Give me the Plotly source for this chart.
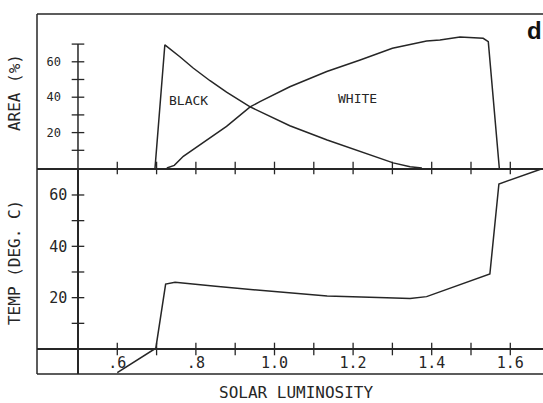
import plotly.graph_objects as go

# ---------------- data ----------------
lum_black = [0.696, 0.721, 0.760, 0.793, 0.836, 0.878, 0.938, 0.963, 1.039, 1.134, 1.218, 1.302, 1.345, 1.375]
area_black = [0.0, 69.6, 62.7, 56.5, 49.3, 42.8, 34.5, 31.8, 23.9, 15.8, 9.2, 2.9, 0.7, 0.0]

lum_white = [0.726, 0.745, 0.768, 0.810, 0.878, 0.938, 0.963, 1.039, 1.133, 1.218, 1.300, 1.387,
             1.421, 1.472, 1.531, 1.544, 1.572]
area_white = [0.0, 1.5, 6.6, 13.2, 23.5, 34.5, 37.5, 45.9, 54.5, 61.0, 67.6, 71.8,
              72.3, 74.0, 73.3, 71.4, 0.0]

lum_temp = [0.600, 0.698, 0.723, 0.747, 0.850, 0.963, 1.014, 1.134, 1.285, 1.345, 1.387,
            1.472, 1.548, 1.571, 1.684]
temp = [-9.2, 0.3, 25.3, 26.0, 24.4, 23.0, 22.1, 20.6, 20.0, 19.7, 20.4,
        24.9, 29.2, 64.3, 70.4]

x_tick_minor = [0.6, 0.7, 0.8, 0.9, 1.0, 1.1, 1.2, 1.3, 1.4, 1.5, 1.6]
x_tick_vals = [0.6, 0.8, 1.0, 1.2, 1.4, 1.6]
x_tick_text = [".6", ".8", "1.0", "1.2", "1.4", "1.6"]

area_tick_minor = [10, 20, 30, 40, 50, 60, 70]
area_tick_vals = [20, 40, 60]
area_tick_text = ["20", "40", "60"]

temp_tick_minor = [10, 20, 30, 40, 50, 60]
temp_tick_vals = [20, 40, 60]
temp_tick_text = ["20", "40", "60"]

axis_lum = 0.5          # where the vertical axis crosses
x_range = [0.3957, 1.6832]
temp_range = [-9.74, 70.51]
area_range = [0.0, 87.0]
split = 0.57222         # boundary between the two panels (paper fraction)

INK = "#262626"
FONT = "DejaVu Sans Mono"

fig = go.Figure()

line_style = dict(color=INK, width=1.5)

fig.add_trace(go.Scatter(x=lum_black, y=area_black, mode="lines", line=line_style,
                         xaxis="x2", yaxis="y2", name="black", cliponaxis=True))
fig.add_trace(go.Scatter(x=lum_white, y=area_white, mode="lines", line=line_style,
                         xaxis="x2", yaxis="y2", name="white", cliponaxis=True))
fig.add_trace(go.Scatter(x=lum_temp, y=temp, mode="lines", line=line_style,
                         xaxis="x", yaxis="y", name="temp", cliponaxis=True))

# cross-shaped tick marks
tick_marker_v = dict(symbol="line-ns", size=9, line=dict(color=INK, width=1.3), color=INK)
tick_marker_h = dict(symbol="line-ew", size=9, line=dict(color=INK, width=1.3), color=INK)
fig.add_trace(go.Scatter(x=x_tick_minor, y=[0] * len(x_tick_minor), mode="markers",
                         marker=tick_marker_v, xaxis="x", yaxis="y", cliponaxis=False))
fig.add_trace(go.Scatter(x=x_tick_minor, y=[0] * len(x_tick_minor), mode="markers",
                         marker=tick_marker_v, xaxis="x2", yaxis="y2", cliponaxis=False))
fig.add_trace(go.Scatter(x=[axis_lum] * len(temp_tick_minor), y=temp_tick_minor, mode="markers",
                         marker=tick_marker_h, xaxis="x", yaxis="y", cliponaxis=False))
fig.add_trace(go.Scatter(x=[axis_lum] * len(area_tick_minor), y=area_tick_minor, mode="markers",
                         marker=tick_marker_h, xaxis="x2", yaxis="y2", cliponaxis=False))

temp_zero_pos = (0 - temp_range[0]) / (temp_range[1] - temp_range[0]) * split
axis_pos_x = (axis_lum - x_range[0]) / (x_range[1] - x_range[0])

fig.update_layout(
    width=543, height=403,
    margin=dict(l=37, r=0, t=14, b=29),
    paper_bgcolor="white", plot_bgcolor="white",
    showlegend=False,
    font=dict(family=FONT, color=INK),
    xaxis=dict(domain=[0, 1], range=x_range, anchor="free", position=temp_zero_pos,
               showline=True, linecolor=INK, linewidth=1.5, showgrid=False, zeroline=False,
               ticks="", tickvals=x_tick_vals, ticktext=x_tick_text,
               tickfont=dict(family=FONT, size=15, color=INK), ticklabelstandoff=0),
    xaxis2=dict(domain=[0, 1], range=x_range, anchor="y2", matches="x",
                showline=True, linecolor=INK, linewidth=1.5, showgrid=False, zeroline=False,
                ticks="", showticklabels=False),
    yaxis=dict(domain=[0, split], range=temp_range, anchor="free", position=axis_pos_x,
               showline=True, linecolor=INK, linewidth=1.5, showgrid=False, zeroline=False,
               ticks="", tickvals=temp_tick_vals, ticktext=temp_tick_text,
               tickfont=dict(family=FONT, size=15, color=INK), ticklabelstandoff=7),
    yaxis2=dict(domain=[split, 1], range=area_range, anchor="free", position=axis_pos_x,
                showline=False, showgrid=False, zeroline=False,
                ticks="", tickvals=area_tick_vals, ticktext=area_tick_text,
                tickfont=dict(family=FONT, size=12, color=INK), ticklabelstandoff=17),
)

# frame and the upper part of the vertical axis
frame = dict(color=INK, width=1.5)
fig.add_shape(type="line", xref="paper", yref="paper", x0=0, x1=0, y0=0, y1=1, line=frame)
fig.add_shape(type="line", xref="paper", yref="paper", x0=0, x1=1, y0=1, y1=1, line=frame)
fig.add_shape(type="line", xref="paper", yref="paper", x0=0, x1=1, y0=0, y1=0, line=frame)
fig.add_shape(type="line", xref="x2", yref="y2", x0=axis_lum, x1=axis_lum,
              y0=area_range[0], y1=max(area_tick_minor), line=frame)

# titles and labels
ann = dict(showarrow=False, xanchor="center", yanchor="middle")
fig.add_annotation(text="AREA (%)", xref="paper", yref="paper", x=-0.0455, y=0.783,
                   textangle=-90, font=dict(family=FONT, size=16, color=INK), **ann)
fig.add_annotation(text="TEMP (DEG. C)", xref="paper", yref="paper", x=-0.0455, y=0.311,
                   textangle=-90, font=dict(family=FONT, size=16, color=INK), **ann)
fig.add_annotation(text="SOLAR LUMINOSITY", xref="paper", yref="paper", x=0.512, y=-0.05,
                   font=dict(family=FONT, size=16, color=INK), **ann)
fig.add_annotation(text="BLACK", xref="x2", yref="y2", x=0.78, y=38.4,
                   font=dict(family=FONT, size=13, color=INK), **ann)
fig.add_annotation(text="WHITE", xref="x2", yref="y2", x=1.21, y=39.0,
                   font=dict(family=FONT, size=13, color=INK), **ann)
fig.add_annotation(text="<b>d</b>", xref="paper", yref="paper", x=0.984, y=0.955,
                   font=dict(family="Liberation Sans", size=24, color="#111"), **ann)

fig.write_html("out.html")
